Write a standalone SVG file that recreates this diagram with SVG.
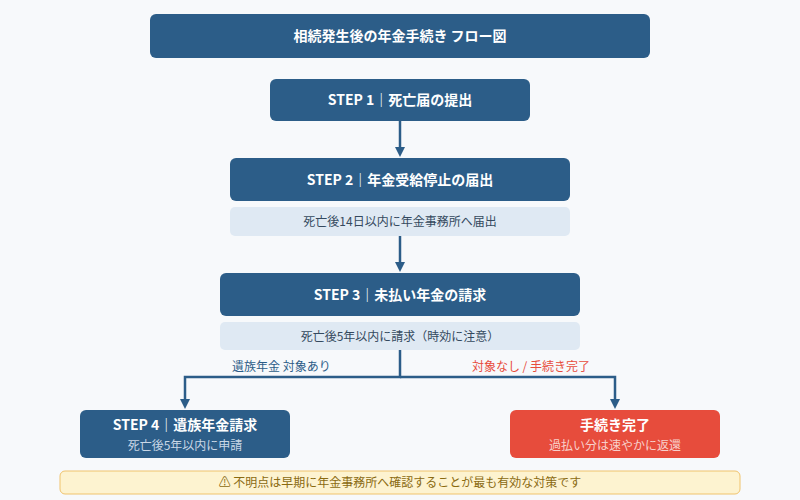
<svg xmlns="http://www.w3.org/2000/svg" width="800" height="500" viewBox="0 0 800 500">
<defs>
<style>
.t{font-family:"Noto Sans CJK JP","Noto Sans",sans-serif}
.dk{fill:#2c5d88}
.lt{fill:#dfe9f3}
.h{fill:#fff;font-size:14px;font-weight:bold;text-anchor:middle}
.s{fill:#34495e;font-size:12px;text-anchor:middle}
.ln{stroke:#2c5d88;stroke-width:2.5;fill:none}
</style>
<marker id="a" markerWidth="10" markerHeight="10" refX="5" refY="5" orient="auto" markerUnits="userSpaceOnUse"><path d="M0,0L10,5L0,10z" fill="#2c5d88"/></marker>
</defs>
<rect width="800" height="500" fill="#f7f9fb"/>
<g id="title"><rect class="dk" x="150" y="14" width="500" height="44" rx="6"/><text class="t h" x="400" y="41" font-size="15">相続発生後の年金手続き フロー図</text></g>
<g id="step1"><rect class="dk" x="270" y="79" width="260" height="42" rx="6"/><text class="t h" x="400" y="105">STEP 1｜死亡届の提出</text></g>
<g id="step2"><rect class="dk" x="230" y="158" width="340" height="43" rx="6"/><text class="t h" x="400" y="185">STEP 2｜年金受給停止の届出</text>
<rect class="lt" x="230" y="207" width="340" height="29" rx="5"/><text class="t s" x="400" y="226">死亡後14日以内に年金事務所へ届出</text></g>
<g id="step3"><rect class="dk" x="220" y="273" width="360" height="43" rx="6"/><text class="t h" x="400" y="300">STEP 3｜未払い年金の請求</text>
<rect class="lt" x="220" y="322" width="360" height="28" rx="5"/><text class="t s" x="400" y="341">死亡後5年以内に請求（時効に注意）</text></g>
<g id="step4"><rect class="dk" x="80" y="410" width="210" height="48" rx="6"/><text class="t h" x="185" y="430">STEP 4｜遺族年金請求</text><text class="t" x="185" y="450" font-size="12" fill="#c9d7e6" text-anchor="middle">死亡後5年以内に申請</text></g>
<g id="done"><rect x="510" y="410" width="210" height="48" rx="6" fill="#e74c3c"/><text class="t h" x="615" y="430">手続き完了</text><text class="t" x="615" y="450" font-size="12" fill="#f8d0cb" text-anchor="middle">過払い分は速やかに返還</text></g>
<g id="note"><rect x="60" y="471" width="680" height="23" rx="5" fill="#fdf3d0" stroke="#f0c36d"/><text class="t" x="400" y="487" font-size="12" fill="#8a6a10" text-anchor="middle">⚠ 不明点は早期に年金事務所へ確認することが最も有効な対策です</text></g>
<g id="connectors">
<path class="ln" d="M400,121V152" marker-end="url(#a)"/>
<path class="ln" d="M400,236V267" marker-end="url(#a)"/>
<path class="ln" d="M400,350V377H185V404" marker-end="url(#a)"/>
<path class="ln" d="M400,377H615V404" marker-end="url(#a)"/>
<text class="t" x="232" y="371" font-size="12" fill="#2c5d88">遺族年金 対象あり</text>
<text class="t" x="590" y="371" font-size="12" fill="#e74c3c" text-anchor="end">対象なし / 手続き完了</text>
</g>
</svg>
